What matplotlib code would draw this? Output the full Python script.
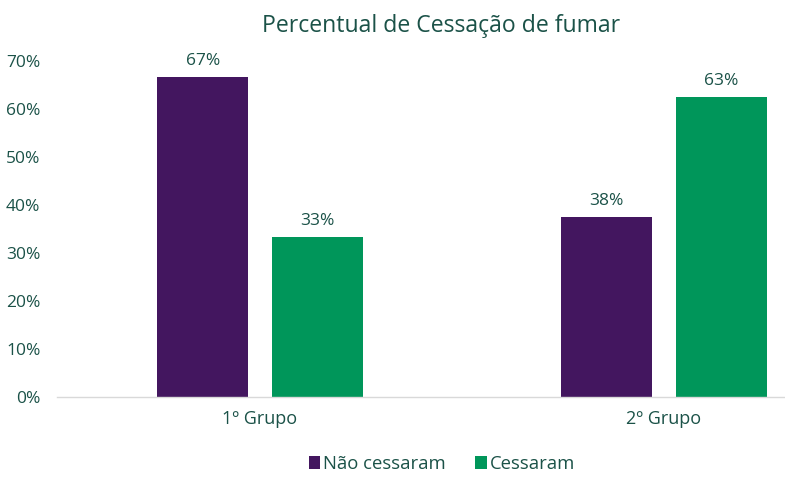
import matplotlib
matplotlib.use("Agg")
import matplotlib.pyplot as plt
from matplotlib import font_manager as fm

names = {f.name for f in fm.fontManager.ttflist}
cands = ["Open Sans", "Noto Sans", "DejaVu Sans"]
fam = next(c for c in cands if c in names)
plt.rcParams['font.family'] = [fam, 'DejaVu Sans']

categories = ["1º Grupo", "2º Grupo"]
nao_cessaram = [66.7, 37.5]
cessaram = [33.3, 62.5]
labels_nao = ["67%", "38%"]
labels_ces = ["33%", "63%"]
series_names = ["Não cessaram", "Cessaram"]
yticks = [0, 10, 20, 30, 40, 50, 60, 70]

txt = "#1B5248"
purple = "#43165F"
green = "#00965A"

fig = plt.figure(figsize=(7.85, 4.8), dpi=100)
L = 57
ax = fig.add_axes([L/785, (480-397)/480, (785-L)/785, 336/480])
x = range(len(categories))
w = 0.225
off = 0.1415
b1 = ax.bar([i - off for i in x], nao_cessaram, w, color=purple, label=series_names[0])
b2 = ax.bar([i + off for i in x], cessaram, w, color=green, label=series_names[1])
for bars, labs in ((b1, labels_nao), (b2, labels_ces)):
    for r, l in zip(bars, labs):
        ax.annotate(l, (r.get_x() + r.get_width()/2, r.get_height()), xytext=(0, 6),
                    textcoords="offset points", ha="center", va="bottom",
                    fontsize=12.5, color=txt, annotation_clip=False)

ax.set_xlim((L-260)/404, (785-260)/404)
ax.set_ylim(0, 70)
ax.set_yticks(yticks)
ax.set_yticklabels([f"{v}%" for v in yticks])
ax.set_xticks(list(x))
ax.set_xticklabels(categories)
ax.tick_params(axis='y', length=0, pad=12, labelsize=12.5, labelcolor=txt)
ax.tick_params(axis='x', length=0, pad=9, labelsize=13, labelcolor=txt)
for s in ("top", "right", "left"):
    ax.spines[s].set_visible(False)
ax.spines["bottom"].set_color("#D9D9D9")
ax.spines["bottom"].set_linewidth(1)

fig.text(441/785, 1 - 26/480, "Percentual de Cessação de fumar", ha="center", va="center",
         fontsize=16.6, color=txt)

leg = fig.legend(handles=[b1, b2], loc="center", bbox_to_anchor=(442/785, 1 - 464/480),
                 ncol=2, frameon=False, fontsize=13.3, handlelength=0.6, handleheight=0.7,
                 handletextpad=0.2, columnspacing=1.6)
for t in leg.get_texts():
    t.set_color(txt)

fig.savefig("out.png", dpi=100)
